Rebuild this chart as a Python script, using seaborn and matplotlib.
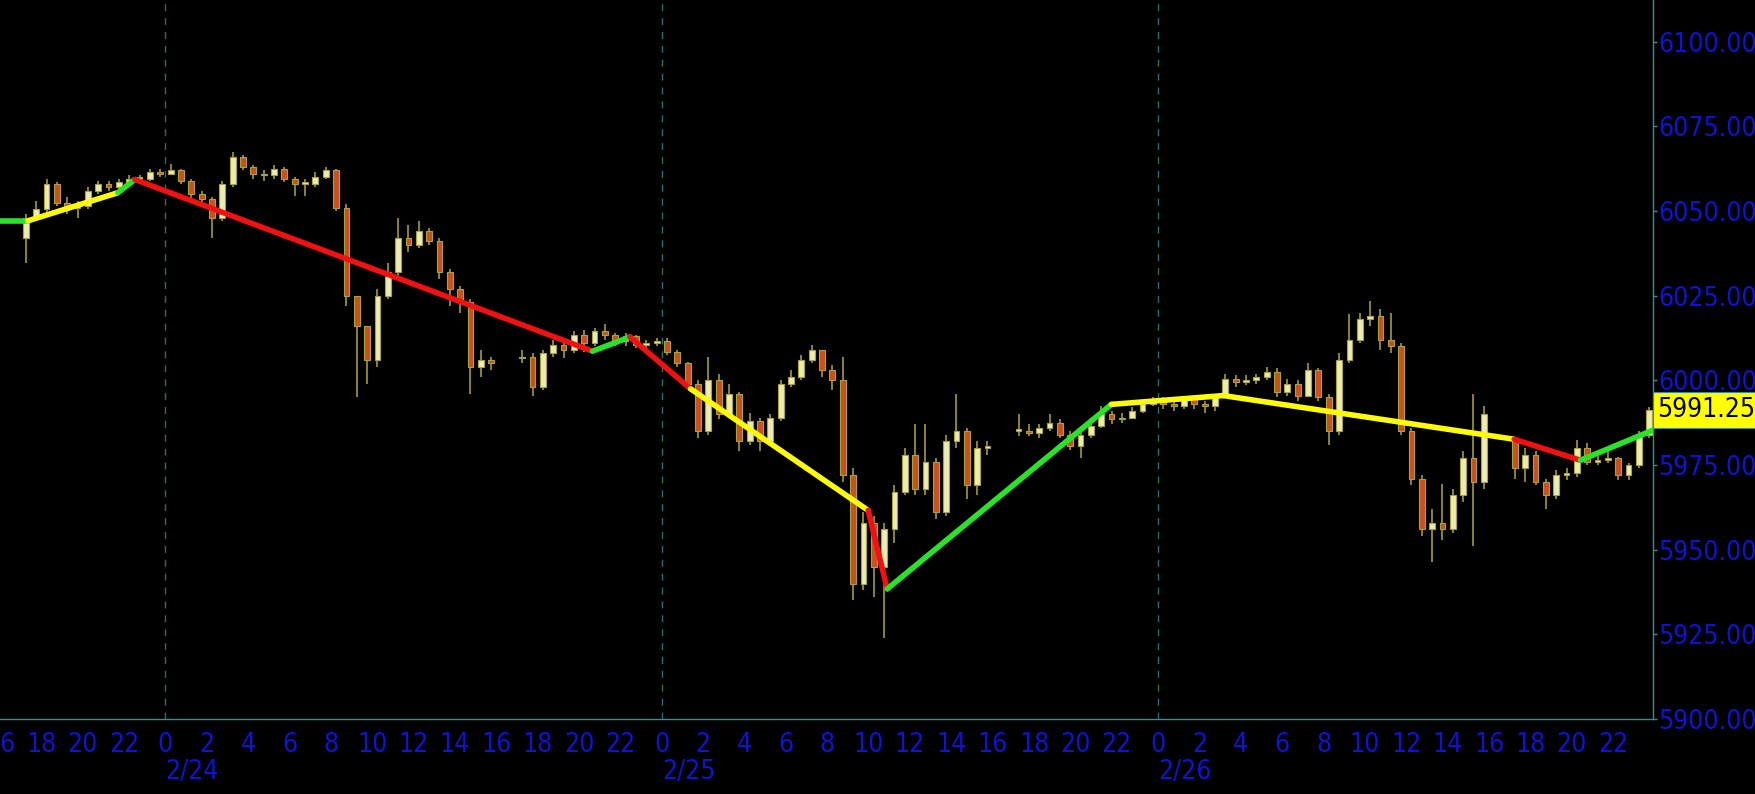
import numpy as np
import pandas as pd
import matplotlib
matplotlib.use('Agg')
import matplotlib.pyplot as plt
import matplotlib.transforms as mtransforms
from matplotlib.patches import Rectangle
import seaborn as sns

nan = np.nan

# 30 minute bars, time in hours counted from 2/24 00:00
bar_start = np.arange(-7.0, 72.0, 0.5)
session_start = [-7.0, 17.0, 41.0, 65.0]
session_open = [6042, 6006.5, 5985, 5982]

closes = [
    # 2/23 17:00 - 2/24 16:00
    6048, 6050.5, 6058, 6052.5, 6051, 6051.5, 6056, 6058, 6057, 6058.5,
    6059.5, 6059.5, 6061.5, 6061, 6062, 6059, 6055, 6053.5, 6048, 6058,
    6066, 6063, 6061, 6060.5, 6062.5, 6059.5, 6058, 6058, 6060, 6062,
    6051, 6025, 6016, 6006, 6025, 6032, 6042, 6040, 6044, 6041,
    6032, 6027, 6023, 6004, 6006, 6005,
    nan, nan,
    # 2/24 17:00 - 2/25 16:00
    6007, 5998, 6008, 6010.5, 6009, 6013.5, 6011, 6014.5, 6013.5, 6011.5,
    6013, 6010.5, 6011, 6011.5, 6008.5, 6005, 5999, 5985, 6000, 5990,
    5996, 5982, 5988, 5982, 5989, 5999, 6001, 6006, 6009, 6003,
    6000, 5972, 5940, 5958, 5945, 5956, 5967, 5978, 5968, 5976,
    5961, 5982, 5985, 5969, 5980, 5980,
    nan, nan,
    # 2/25 17:00 - 2/26 16:00
    5985, 5984.5, 5986, 5987.5, 5984, 5980.5, 5984, 5986.5, 5990, 5988.5,
    5989, 5991, 5993, 5994, 5993, 5992.5, 5994.5, 5993, 5992.5, 5995.5,
    6000.5, 5999.5, 6000, 6001, 6002.5, 5996.5, 5999, 5995.5, 6003, 5995,
    5985, 6006, 6012, 6018, 6019, 6012, 6010, 5985, 5971, 5956,
    5958, 5956, 5966, 5977, 5970, 5990,
    nan, nan,
    # 2/26 17:00 -
    5974, 5978, 5970, 5966, 5972, 5972.5, 5980, 5976, 5976.5, 5977,
    5972, 5975, 5984, 5991.25,
]

highs = [
    6049, 6053, 6059.5, 6058.5, 6054, 6053, 6057, 6059, 6059, 6059.5,
    6060.5, 6060.5, 6062.5, 6062.5, 6064, 6062.5, 6059.5, 6056, 6054, 6059,
    6067.5, 6066.5, 6063.5, 6062, 6063.5, 6063, 6060, 6059.5, 6061.5, 6063,
    6062.5, 6052, 6020, 6016, 6027, 6034.5, 6048, 6046, 6047, 6045,
    6042, 6033, 6028, 6024, 6009, 6007,
    nan, nan,
    6009, 6008, 6009, 6012, 6012, 6014.5, 6015, 6015.5, 6016.5, 6014,
    6014, 6013.5, 6012, 6012.5, 6012.5, 6009, 6005.5, 6000, 6007, 6002,
    5999, 5996.5, 5990.5, 5989, 5990, 6000, 6003, 6007.5, 6010.5, 6009,
    6004.5, 6007, 5974, 5961, 5960, 5958, 5969, 5980, 5987, 5987,
    5977, 5984, 5996, 5986, 5982, 5982,
    nan, nan,
    5990, 5987, 5987, 5990, 5988.5, 5985, 5985, 5987.5, 5992.5, 5991,
    5990.5, 5992, 5994, 5995, 5995, 5994, 5995.5, 5995, 5994, 5996,
    6002, 6001.5, 6001.5, 6002, 6004, 6003.5, 6000.5, 6000, 6005, 6003.5,
    5996, 6008, 6019.5, 6020, 6023.5, 6021, 6020, 6011, 5986, 5972,
    5962, 5969.5, 5968, 5979, 5996, 5992.5,
    nan, nan,
    5983, 5980, 5979, 5971, 5973.5, 5974, 5982.5, 5981.5, 5978, 5979,
    5977.5, 5975.5, 5985, 5992,
]

lows = [
    6034.5, 6047, 6049.5, 6051.5, 6049, 6048, 6050.5, 6055, 6056, 6056.5,
    6057.5, 6058.5, 6059, 6060, 6060.5, 6058, 6053.5, 6052, 6042, 6047,
    6057, 6062, 6059.5, 6059, 6059.5, 6058.5, 6054.5, 6054.5, 6057, 6059.5,
    6050, 6022, 5995, 5999, 6004, 6024, 6030, 6038, 6039, 6040,
    6030, 6022, 6020, 5996, 6001, 6003,
    nan, nan,
    6005, 5995.5, 5997, 6007, 6006.5, 6008, 6008.5, 6010, 6012, 6010,
    6010, 6009.5, 6009.5, 6010, 6007.5, 6004, 5997, 5983, 5984, 5988.5,
    5989, 5979, 5981, 5979, 5980.5, 5988, 5998, 6000, 6005, 6001,
    5997, 5970, 5935, 5938, 5936, 5924, 5952, 5966, 5966, 5966,
    5959, 5960, 5980, 5965, 5966, 5978,
    nan, nan,
    5983.5, 5983.5, 5983, 5985, 5983, 5979.5, 5977, 5983, 5986, 5987,
    5987.5, 5988.5, 5990.5, 5992.5, 5991.5, 5991, 5991.5, 5991.5, 5990.5, 5991,
    5995, 5998, 5998.5, 5999, 6000, 5995, 5995.5, 5994, 5995, 5994,
    5981, 5984, 6005, 6011, 6016, 6009, 6008, 5984, 5969, 5954,
    5946.5, 5953, 5955, 5964, 5951, 5968,
    nan, nan,
    5971, 5970, 5969, 5962, 5965, 5970.5, 5971.5, 5975, 5975, 5975.5,
    5970.5, 5970.5, 5974, 5983,
]

# trend line vertices and segment colours
trend_hours = [-8.0, -6.65, -2.30, -1.48, 20.65, 22.46, 25.39, 33.98, 34.90,
               45.74, 51.15, 65.22, 68.42, 71.93]
trend_price = [6047.1, 6047.1, 6055.4, 6059.3, 6008.6, 6012.8, 5997.5, 5961.6,
               5938.4, 5992.9, 5995.5, 5982.6, 5976.4, 5985.3]
trend_color = ['green', 'yellow', 'green', 'red', 'green', 'red', 'yellow',
               'red', 'green', 'yellow', 'yellow', 'red', 'green']

day_hours = [0, 24, 48]
day_labels = ['2/24', '2/25', '2/26']
last_price = 5991.25

BLUE = '#1212d2'
TEAL = '#3f8a8a'

sns.set_style('dark', {'axes.facecolor': 'black', 'figure.facecolor': 'black'})
plt.rcParams['font.family'] = ['DejaVu Sans']

fig = plt.figure(figsize=(17.55, 7.94), dpi=100)
ax = fig.add_axes([0, 75 / 794, 1653 / 1755, 719 / 794])
ax.set_facecolor('black')
ax.grid(False)

# candles
close = np.array(closes, dtype=float)
high = np.array(highs, dtype=float)
low = np.array(lows, dtype=float)
opens = np.r_[nan, close[:-1]]
for t, o in zip(session_start, session_open):
    opens[bar_start == t] = o
ok = ~np.isnan(close)
x = bar_start[ok] + 0.25
o, c, h, l = opens[ok], close[ok], high[ok], low[ok]
up = c >= o
ax.vlines(x, l, h, color='#a09a3e', lw=1.2, zorder=2)
body = np.maximum(np.abs(c - o), 0.5)
ax.bar(x[up], body[up], bottom=np.minimum(o, c)[up], width=0.28,
       color='#ecebb0', edgecolor='#a8a244', linewidth=0.8, zorder=3)
ax.bar(x[~up], body[~up], bottom=np.minimum(o, c)[~up], width=0.28,
       color='#c9521c', edgecolor='#a8a244', linewidth=0.8, zorder=3)

# coloured trend line
rows = []
for i, col in enumerate(trend_color):
    for j in (i, i + 1):
        rows.append({'hour': trend_hours[j], 'price': trend_price[j], 'seg': f's{i}'})
df = pd.DataFrame(rows)
cmap = {'green': '#2ae22a', 'yellow': '#fcfc0a', 'red': '#ee1212'}
palette = {f's{i}': cmap[col] for i, col in enumerate(trend_color)}
sns.lineplot(data=df, x='hour', y='price', hue='seg', palette=palette,
             estimator=None, sort=False, legend=False, linewidth=4,
             solid_capstyle='round', ax=ax, zorder=5)

# day separators
for d in day_hours:
    ax.axvline(d, color='#2d6c6c', lw=1, ls=(0, (5, 5)), zorder=1)

ax.set_xlim(-8.0, 71.93)
ax.set_ylim(5900, 6112.3)
ax.set_xlabel('')
ax.set_ylabel('')

tick_hours = np.arange(-8, 72, 2)
ax.set_xticks(tick_hours)
ax.set_xticklabels([str(int(t) % 24) for t in tick_hours])
ax.set_xticks(np.arange(-8, 72, 1), minor=True)

ax.yaxis.tick_right()
yt = np.arange(5900, 6101, 25)
ax.set_yticks(yt)
ax.set_yticklabels([f'{v:.2f}' for v in yt])

for s in ['top', 'left']:
    ax.spines[s].set_visible(False)
for s in ['bottom', 'right']:
    ax.spines[s].set_visible(True)
    ax.spines[s].set_color(TEAL)
    ax.spines[s].set_linewidth(1)

ax.tick_params(axis='x', which='both', direction='inout', length=5,
               color=TEAL, width=1, labelcolor=BLUE, labelsize=19, pad=7)
ax.tick_params(axis='y', direction='out', length=3, color=TEAL, width=1,
               labelcolor=BLUE, labelsize=19, pad=1, right=True, left=False)
for lab in ax.get_xticklabels() + ax.get_yticklabels():
    lab.set_fontstretch('condensed')

trans = mtransforms.blended_transform_factory(ax.transData, ax.transAxes)
for d, lab in zip(day_hours, day_labels):
    ax.text(d, -0.074, lab, transform=trans, ha='left', va='center',
            color=BLUE, fontsize=19, fontstretch='condensed')

# last price tag
trans_y = mtransforms.blended_transform_factory(ax.transAxes, ax.transData)
ax.add_patch(Rectangle((1.0, last_price - 5.4), 0.065, 10.8, transform=trans_y,
                       facecolor='#ffff00', edgecolor=TEAL, lw=0.8,
                       clip_on=False, zorder=10))
ax.text(1.0025, last_price, f'{last_price:.2f}', transform=trans_y,
        ha='left', va='center', color='black', fontsize=19,
        fontstretch='condensed', zorder=11, clip_on=False)

fig.savefig('out.png', dpi=100, facecolor='black')
